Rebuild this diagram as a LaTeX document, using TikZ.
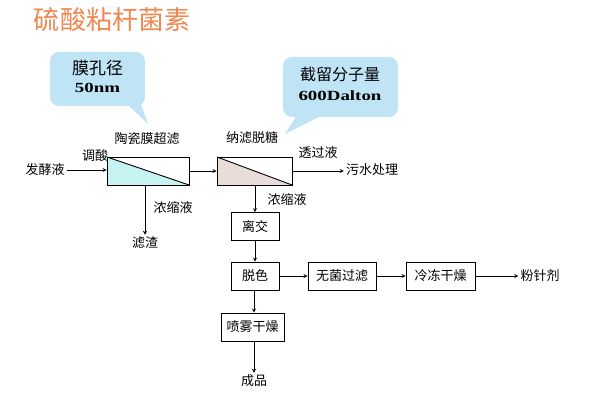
\documentclass[tikz,border=0pt]{standalone}
\usepackage{fontspec}
\usepackage{tikz}
\usepackage{xcolor}
\setmainfont{Noto Sans CJK SC}
\newfontfamily\numfont[FakeStretch=1.35]{Liberation Serif}
\definecolor{titleorange}{HTML}{F08650}
\definecolor{bubbleblue}{HTML}{BEE4F5}
\definecolor{ufcyan}{HTML}{C6F2F2}
\definecolor{nfpink}{HTML}{EADCD8}
\newcommand{\lblsize}{\fontsize{13}{15}\selectfont}

\tikzset{
  procbox/.style={draw, line width=0.9pt, minimum height=28, inner sep=2pt, font=\lblsize},
  filterbox/.style={draw, line width=0.9pt, minimum height=28, minimum width=#1, inner sep=0pt},
  membrane/.style={path picture={
      \fill[#1] (path picture bounding box.north west) -- (path picture bounding box.south east)
        -- (path picture bounding box.south west) -- cycle;
      \draw[line width=0.9pt] (path picture bounding box.north west) -- (path picture bounding box.south east);}},
  lbl/.style={font=\lblsize, inner sep=2pt},
  bubble/.style={fill=bubbleblue, rounded corners=9pt, inner sep=0pt},
  bubbletext/.style={font=\fontsize{#1}{#1}\selectfont, inner sep=1pt},
  bubblenum/.style={font=\numfont\bfseries\fontsize{14}{16}\selectfont, inner sep=1pt},
  flow/.style={-stealth, line width=0.8pt},
}

\begin{document}
\begin{tikzpicture}[x=1pt, y=-1pt]
            \useasboundingbox (0,0) rectangle (589,403);

            % title
            \node[text=titleorange, font=\fontsize{26}{28}\selectfont] (title) at (112,20) {硫酸粘杆菌素};

            % callouts
            \fill[bubbleblue] (127,104) -- (148,124) -- (141,104) -- cycle;
            \node[bubble, minimum width=95, minimum height=54] (pore) at (97.5,79) {};
            \node[bubbletext=17] (poretxt) at (97.5,68) {膜孔径};
            \node[bubblenum] (poreval) at (97.5,88) {50nm};
            \fill[bubbleblue] (297,115) -- (285,134) -- (323,115) -- cycle;
            \node[bubble, minimum width=115, minimum height=60] (cutoff) at (340.5,87) {};
            \node[bubbletext=16] (cutofftxt) at (340,74) {截留分子量};
            \node[bubblenum] (cutoffval) at (340,96) {600Dalton};

            % membrane units
            \node[filterbox=82, membrane=ufcyan] (uf) at (148,171) {};
            \node[filterbox=75, membrane=nfpink] (nf) at (254.5,171) {};
            \node[lbl] (ufname) at (147,139) {陶瓷膜超滤};
            \node[lbl] (nfname) at (252,138) {纳滤脱糖};

            % feed side
            \node[lbl] (feed) at (45,170) {发酵液};
            \node[lbl] (acid) at (95,156) {调酸};
            \draw[flow] (feed.east) -- (feed.east -| uf.west);
            \draw[flow] (uf.east) -- (nf.west);

            % permeate
            \node[lbl] (waste) at (372,170) {污水处理};
            \node[lbl] (permeate) at (318,153) {透过液};
            \draw[flow] (nf.east) -- (nf.east -| waste.west);

            % residue
            \node[lbl] (residue) at (145,243) {滤渣};
            \node[lbl] (conc1) at (173,208) {浓缩液};
            \draw[flow] (uf.south -| residue) -- (residue);

            % purification chain
            \node[procbox, minimum width=48] (ion) at (255,226.5) {离交};
            \node[procbox, minimum width=48] (decol) at (255,276) {脱色};
            \node[procbox, minimum width=68] (steril) at (342,276) {无菌过滤};
            \node[procbox, minimum width=69] (freeze) at (440.5,276) {冷冻干燥};
            \node[procbox, minimum width=63] (spray) at (252.5,327) {喷雾干燥};
            \node[lbl] (powder) at (540,276) {粉针剂};
            \node[lbl] (product) at (254,381) {成品};
            \node[lbl] (conc2) at (287,200) {浓缩液};

            \draw[flow] (nf.south -| ion) -- (ion);
            \draw[flow] (ion) -- (decol);
            \draw[flow] (decol) -- (steril);
            \draw[flow] (steril) -- (freeze);
            \draw[flow] (freeze) -- (powder);
            \draw[flow] (decol.south -| product) -- (spray.north -| product);
            \draw[flow] (spray.south -| product) -- (product);
        \end{tikzpicture}
\end{document}
